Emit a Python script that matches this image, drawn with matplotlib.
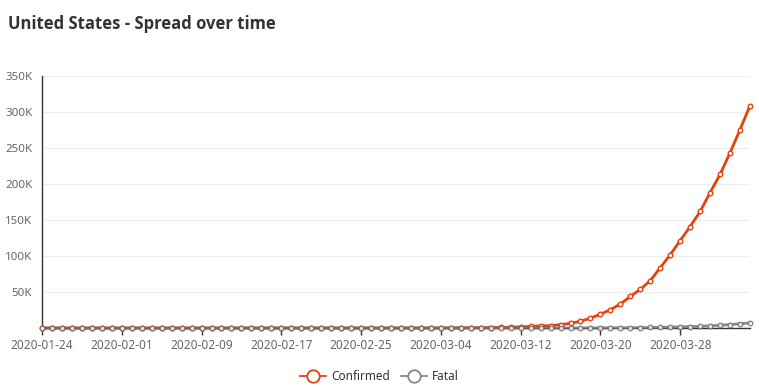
import matplotlib
matplotlib.use("Agg")
import matplotlib.pyplot as plt
import numpy as np
import pandas as pd
from matplotlib.lines import Line2D

plt.rcParams['font.family'] = ['Noto Sans', 'DejaVu Sans']

dates = pd.date_range("2020-01-24", "2020-04-04").strftime("%Y-%m-%d").tolist()

confirmed = [2, 2, 5, 5, 5, 5, 6, 7, 8, 11, 11, 11, 12, 12, 12, 12, 12, 13, 13, 14,
             14, 14, 14, 14, 14, 14, 14, 14, 16, 16, 16, 16, 16, 16, 17, 17, 25, 32,
             55, 74, 107, 184, 237, 403, 519, 594, 782, 1147, 1586, 2219, 2978, 3212,
             4679, 6512, 9345, 13677, 19100, 25489, 33272, 43847, 53740, 65778, 83836,
             101657, 121478, 140886, 161807, 188172, 213372, 243453, 275586, 308850]

fatal = [0, 0, 0, 0, 0, 0, 0, 0, 0, 0, 0, 0, 0, 0, 0, 0, 0, 0, 0, 0,
         0, 0, 0, 0, 0, 0, 0, 0, 0, 0, 0, 0, 0, 0, 0, 0, 1, 1, 1, 6,
         7, 11, 12, 14, 17, 21, 22, 28, 36, 40, 47, 54, 63, 85, 108, 118,
         200, 244, 307, 427, 552, 706, 942, 1209, 1581, 2026, 2467, 2978, 3873,
         4757, 5926, 7087, 8407][:len(dates)]

y_ticks = [50000, 100000, 150000, 200000, 250000, 300000, 350000]
y_labels = ["50K", "100K", "150K", "200K", "250K", "300K", "350K"]

W, H = 759, 387
fig = plt.figure(figsize=(W / 100, H / 100), dpi=100)
ax = fig.add_axes([42 / W, 1 - 328 / H, (750 - 42) / W, (328 - 76) / H])

x = np.arange(len(dates))
c_conf = "#e8400c"
c_fatal = "#6e6e6e"

ax.plot(x, confirmed, color=c_conf, lw=2, marker="o", ms=3.3, mfc="white",
        mec=c_conf, mew=1.0, zorder=3, clip_on=False)
ax.plot(x, fatal, color=c_fatal, lw=2, marker="o", ms=3.3, mfc="white",
        mec=c_fatal, mew=1.0, zorder=4, alpha=0.8, clip_on=False)

ax.set_xlim(0, len(dates) - 1)
ax.set_ylim(0, 350000)
ax.set_yticks(y_ticks)
ax.set_yticklabels(y_labels)
ax.tick_params(axis="y", length=0, pad=7, labelsize=8.3, labelcolor="#666666")

xt = list(range(0, len(dates), 8))
ax.set_xticks(xt)
ax.set_xticklabels([dates[i] for i in xt])
ax.tick_params(axis="x", length=5, width=1, color="#333333", pad=3,
               labelsize=8.5, labelcolor="#666666")

ax.grid(axis="y", color="#eeeeee", lw=1)
ax.set_axisbelow(True)
for s in ["top", "right"]:
    ax.spines[s].set_visible(False)
for s in ["left", "bottom"]:
    ax.spines[s].set_color("#333333")
    ax.spines[s].set_linewidth(1)

fig.text(8 / W, 1 - 24 / H, "United States - Spread over time", fontsize=12,
         fontweight="bold", family=["Open Sans", "DejaVu Sans"],
         color="#333333", va="center", ha="left")

handles = [
    Line2D([], [], color=c_conf, lw=1.3, marker="o", ms=9, mfc="white", mec=c_conf, mew=1.3),
    Line2D([], [], color="#888888", lw=1.3, marker="o", ms=9, mfc="white", mec="#888888", mew=1.3),
]
fig.legend(handles, ["Confirmed", "Fatal"], loc="center", bbox_to_anchor=(0.5, 1 - 377 / H),
           ncol=2, frameon=False, fontsize=8.5, labelcolor="#333333",
           handlelength=2.2, columnspacing=1.0, handletextpad=0.4)

fig.savefig("out.png", dpi=100, facecolor="white")
